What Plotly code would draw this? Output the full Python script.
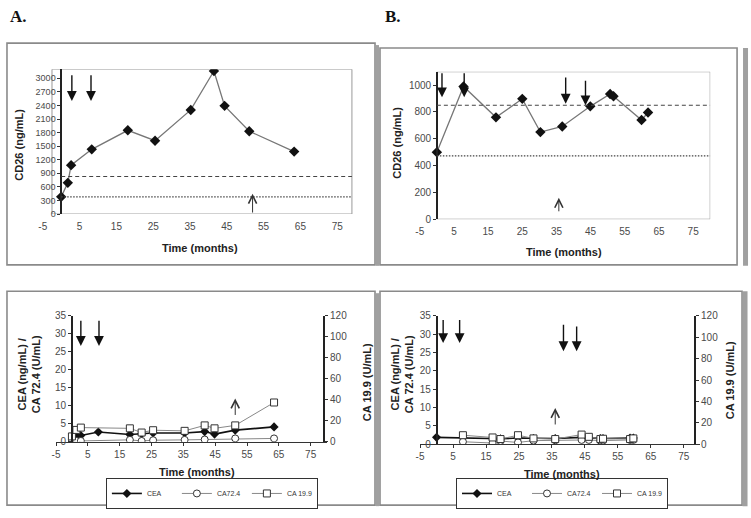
import plotly.graph_objects as go

W, H = 751, 518


def PX(p):
    return p / W


def PY(p):
    return 1 - p / H


# ---------------- data ----------------
# Panel A (top): CD26
A_cd26_month = [0, 1.8, 2.7, 8.3, 18.1, 25.5, 35.2, 41.5, 44.4, 51.1, 63.3]
A_cd26 = [380, 690, 1080, 1430, 1850, 1620, 2300, 3160, 2390, 1830, 1380]
A_cut_dashed = 830
A_cut_dotted = 380

# Panel B (top): CD26
B_cd26_month = [0, 7.8, 17.3, 25, 30.3, 36.7, 44.9, 50.7, 51.7, 59.9, 61.8]
B_cd26 = [500, 990, 760, 898, 650, 692, 842, 934, 917, 740, 796]
B_cut_dashed = 850
B_cut_dotted = 473

# Panel A (bottom): CEA, CA72.4 (left axis), CA19.9 (right axis)
A_month = [0, 1.4, 2.8, 8.3, 18.2, 21.9, 25.5, 35.4, 41.7, 44.8, 51.3, 63.5]
A_cea = [None, 1.6, 1.7, 2.7, 2.0, 2.2, 2.4, 2.4, 2.8, 2.1, 3.2, 4.1]
A_ca724 = [0.5, 0.2, 0.2, None, 0.5, 0.2, 0.4, 0.5, 0.6, None, 0.9, 0.9]
A_ca199 = [5.0, 11.2, 13.4, None, 12.7, 8.7, 10.9, 10.3, 15.5, 12.7, 15.5, 37.3]

# Panel B (bottom)
B_month = [0, 8, 17, 19.4, 24.7, 29.4, 36, 44, 46.2, 49.7, 50.5, 58.7, 59.7]
B_cea = [1.9, 1.8, 1.6, 1.5, 1.7, 1.6, 1.6, 1.9, 1.8, 1.6, 1.6, 1.7, 1.7]
B_ca724 = [None, 0.7, 0.35, 0.9, 0.5, 1.0, 1.1, 1.2, 1.2, 1.0, 1.0, 1.2, 1.2]
B_ca199 = [None, 8.5, 6.4, 4.9, 8.5, 5.5, 4.9, 9.1, 7.0, 4.9, 5.2, 4.9, 5.5]

# event arrows: (month, start, end)
A_top_down = [(2.9, 3100, 2500), (8.1, 3100, 2500)]
A_top_up = [(52, 0, 450)]
B_top_down = [(1.5, 1100, 910), (8, 1100, 910), (37.7, 1068, 862), (43.5, 1044, 850)]
B_top_up = [(35.7, 48, 160)]
A_bot_down = [(2.8, 34, 26.6), (8.5, 34, 26.6)]
A_bot_up = [(51.3, 7, 12)]
B_bot_down = [(2, 34.3, 27.6), (7, 34.3, 27.6), (38.5, 33, 25.4), (42.5, 32.5, 25.4)]
B_bot_up = [(36, 5, 9.9)]

x_ticks = [-5, 5, 15, 25, 35, 45, 55, 65, 75]
x_ticktext = ["-5", "5", "15", "25", "35", "45", "55", "65", "75"]

FONT = "Liberation Sans, Arial, sans-serif"
TICKC = "#4a4a4a"

fig = go.Figure()

# ---- top panels ----
fig.add_trace(go.Scatter(x=A_cd26_month, y=A_cd26, xaxis="x", yaxis="y",
                         mode="lines+markers", showlegend=False,
                         line=dict(color="#777", width=1.3),
                         marker=dict(symbol="diamond", size=8, color="#111")))
fig.add_trace(go.Scatter(x=B_cd26_month, y=B_cd26, xaxis="x2", yaxis="y2",
                         mode="lines+markers", showlegend=False,
                         line=dict(color="#777", width=1.3),
                         marker=dict(symbol="diamond", size=8, color="#111")))


def add_markers(months, cea, ca724, ca199, xa, ya, yr, leg):
    fig.add_trace(go.Scatter(x=months, y=cea, xaxis=xa, yaxis=ya, name="CEA",
                             mode="lines+markers", connectgaps=True, legend=leg,
                             line=dict(color="#111", width=1.6),
                             marker=dict(symbol="diamond", size=7, color="#111")))
    fig.add_trace(go.Scatter(x=months, y=ca724, xaxis=xa, yaxis=ya, name="CA72.4",
                             mode="lines+markers", connectgaps=True, legend=leg,
                             line=dict(color="#888", width=1),
                             marker=dict(symbol="circle", size=7, color="white",
                                         line=dict(color="#333", width=1))))
    fig.add_trace(go.Scatter(x=months, y=ca199, xaxis=xa, yaxis=yr, name="CA 19.9",
                             mode="lines+markers", connectgaps=True, legend=leg,
                             line=dict(color="#888", width=1),
                             marker=dict(symbol="square", size=7, color="white",
                                         line=dict(color="#333", width=1))))


add_markers(A_month, A_cea, A_ca724, A_ca199, "x3", "y3", "y5", "legend")
add_markers(B_month, B_cea, B_ca724, B_ca199, "x4", "y4", "y6", "legend2")

shapes = []
# reference lines (top panels)
for (cut, dash, xr, yr, x1) in [(A_cut_dashed, "4px,3px", "x", "y", 79),
                                (A_cut_dotted, "1.5px,1.5px", "x", "y", 79),
                                (B_cut_dashed, "4px,3px", "x2", "y2", 80),
                                (B_cut_dotted, "1.5px,1.5px", "x2", "y2", 80)]:
    shapes.append(dict(type="line", xref=xr, yref=yr, x0=0, x1=x1, y0=cut, y1=cut,
                       line=dict(color="#444", width=1.2, dash=dash)))
# plot-area frames of top panels
shapes.append(dict(type="rect", xref="x", yref="y", x0=-2.5, x1=79, y0=0, y1=3200,
                   line=dict(color="#999", width=1), layer="below"))
shapes.append(dict(type="rect", xref="x2", yref="y2", x0=0, x1=80, y0=0, y1=1100,
                   line=dict(color="#999", width=1), layer="below"))
# outer panel boxes
for (x0, y0, x1, y1) in [(3, 38, 373, 265), (378, 43, 737, 265),
                         (3, 292, 373, 511), (378, 292, 742, 511)]:
    shapes.append(dict(type="rect", xref="paper", yref="paper",
                       x0=PX(x0), x1=PX(x1), y0=PY(y1), y1=PY(y0),
                       line=dict(color="#8a8a8a", width=1.6)))
# shadow bands
for (x, y0, y1, w) in [(375.5, 40, 266, 3), (745.5, 43, 266, 5),
                       (375.5, 294, 512, 3), (745, 292, 512, 5)]:
    shapes.append(dict(type="line", xref="paper", yref="paper",
                       x0=PX(x), x1=PX(x), y0=PY(y1), y1=PY(y0),
                       line=dict(color="#a0a0a0", width=w)))

annotations = []


def arrows(lst, xr, yr, head, width, size, color):
    for (m, s, e) in lst:
        annotations.append(dict(x=m, y=e, ax=m, ay=s, xref=xr, yref=yr,
                                axref=xr, ayref=yr, text="", showarrow=True,
                                arrowhead=head, arrowwidth=width, arrowsize=size,
                                arrowcolor=color))


arrows(A_top_down, "x", "y", 2, 1.4, 1.4, "#111")
arrows(A_top_up, "x", "y", 5, 1.0, 1.6, "#333")
arrows(B_top_down, "x2", "y2", 2, 1.4, 1.4, "#111")
arrows(B_top_up, "x2", "y2", 5, 1.0, 1.6, "#333")
arrows(A_bot_down, "x3", "y3", 2, 1.4, 1.4, "#111")
arrows(A_bot_up, "x3", "y3", 5, 1.0, 1.6, "#333")
arrows(B_bot_down, "x4", "y4", 2, 1.4, 1.4, "#111")
arrows(B_bot_up, "x4", "y4", 5, 1.0, 1.6, "#333")


def label(text, px, py, angle=0, size=11, bold=True):
    annotations.append(dict(text=f"<b>{text}</b>" if bold else text,
                            x=PX(px), y=PY(py), xref="paper", yref="paper",
                            showarrow=False, textangle=angle,
                            xanchor="center", yanchor="middle",
                            font=dict(family=FONT, size=size, color="#222")))


label("CD26 (ng/mL)", 15, 142, -90)
label("Time (months)", 197, 248)
label("CD26 (ng/mL)", 395, 140, -90)
label("Time (months)", 563, 252)
label("CEA (ng/mL) /<br>CA 72.4 (U/mL)", 25, 377, -90)
label("CA 19.9 (U/mL)", 365, 385, -90)
label("Time (months)", 194, 477)
label("CEA (ng/mL) /<br>CA 72.4 (U/mL)", 400, 377, -90)
label("CA 19.9 (U/mL)", 730, 383, -90)
label("Time (months)", 561, 479)
annotations.append(dict(text="<b>A.</b>", x=PX(4), y=PY(11), xref="paper", yref="paper",
                        showarrow=False, xanchor="left", yanchor="middle",
                        font=dict(family="Liberation Serif, Times New Roman, serif",
                                  size=17, color="#111")))
annotations.append(dict(text="<b>B.</b>", x=PX(381), y=PY(11), xref="paper", yref="paper",
                        showarrow=False, xanchor="left", yanchor="middle",
                        font=dict(family="Liberation Serif, Times New Roman, serif",
                                  size=17, color="#111")))

tickfont = dict(family=FONT, size=10, color=TICKC)


def xax(d0, d1, anchor, line):
    return dict(domain=[PX(d0), PX(d1)], range=[-5, 80], anchor=anchor,
                tickvals=x_ticks, ticktext=x_ticktext, showgrid=False, zeroline=False,
                showline=line, linecolor="#333", linewidth=1,
                ticks="outside", ticklen=3, tickcolor="#333" if line else "rgba(0,0,0,0)",
                tickfont=tickfont)


def yax(b, t, rng, tv, pos, side="left", overlay=None, size=10):
    d = dict(domain=[PY(b), PY(t)], range=rng, anchor="free", position=PX(pos),
             side=side, tickvals=tv, showgrid=False, zeroline=False,
             showline=True, linecolor="#222", linewidth=1.5,
             ticks="outside", ticklen=3, tickcolor="#333",
             tickfont=dict(family=FONT, size=size, color=TICKC))
    if overlay:
        d["overlaying"] = overlay
    return d


def legend_box(cx):
    return dict(orientation="h", x=PX(cx), y=PY(499), xanchor="center", yanchor="middle",
                bordercolor="#333", borderwidth=1, bgcolor="white", itemwidth=30,
                entrywidth=25, entrywidthmode="pixels",
                font=dict(family=FONT, size=7, color="#333"), tracegroupgap=0)


fig.update_layout(
    width=W, height=H, autosize=False,
    margin=dict(l=0, r=0, t=0, b=0),
    paper_bgcolor="white", plot_bgcolor="rgba(0,0,0,0)",
    font=dict(family=FONT),
    xaxis=xax(39, 353.5, "y", False),
    yaxis=yax(213, 64.7, [0, 3200], list(range(0, 3001, 300)), 57.5, size=9),
    xaxis2=xax(418, 710, "y2", False),
    yaxis2=yax(218.3, 67.3, [0, 1100], list(range(0, 1001, 200)), 435.2),
    xaxis3=xax(52.3, 324.3, "y3", True),
    yaxis3=yax(446, 317, [0, 35], list(range(0, 36, 5)), 68.3),
    yaxis5=yax(446, 317, [0, 120], list(range(0, 121, 20)), 322, side="right", overlay="y3"),
    xaxis4=xax(418.3, 700, "y4", True),
    yaxis4=yax(448.7, 317.3, [0, 35], list(range(0, 36, 5)), 435),
    yaxis6=yax(448.7, 317.3, [0, 120], list(range(0, 121, 20)), 695, side="right", overlay="y4"),
    legend=legend_box(209),
    legend2=legend_box(561),
    shapes=shapes,
    annotations=annotations,
)

fig.write_html("out.html", config={"displayModeBar": False},
               post_script="document.body.style.margin='0';document.body.style.overflow='hidden';")
